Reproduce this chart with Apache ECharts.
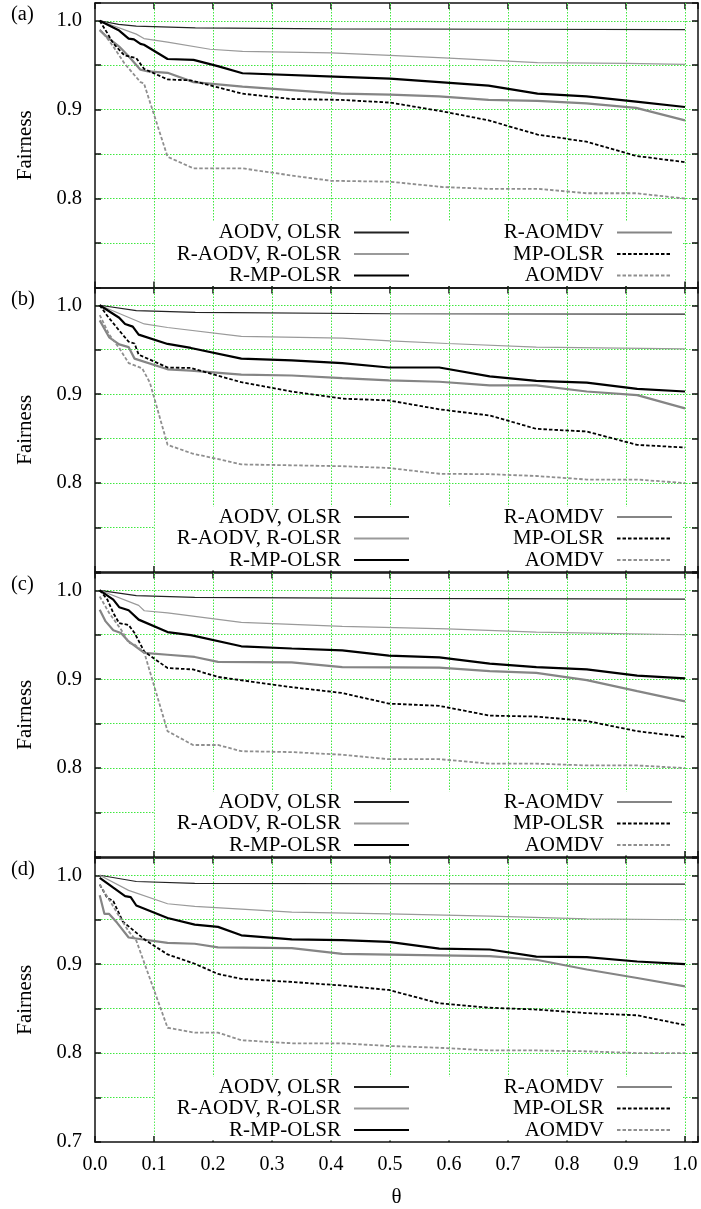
<!DOCTYPE html>
<html>
<head>
<meta charset="utf-8">
<script src="https://cdn.jsdelivr.net/npm/echarts@6/dist/echarts.min.js"></script>
<style>html,body{margin:0;padding:0;background:#fff}#chart{width:701px;height:1209px}</style>
</head>
<body>
<div id="chart"></div>
<script>
const panelLabels = ['(a)', '(b)', '(c)', '(d)'];
const seriesNames = ['AODV, OLSR', 'R-AODV, R-OLSR', 'R-MP-OLSR', 'R-AOMDV', 'MP-OLSR', 'AOMDV'];
const legendLeftNames = ['AODV, OLSR', 'R-AODV, R-OLSR', 'R-MP-OLSR'];
const legendRightNames = ['R-AOMDV', 'MP-OLSR', 'AOMDV'];
const xTickLabels = ['0.0','0.1','0.2','0.3','0.4','0.5','0.6','0.7','0.8','0.9','1.0'];
const yTickLabels = ['0.7','0.8','0.9','1.0'];
const xAxisName = 'θ';
const yAxisName = 'Fairness';

// Panel (a)
const a_aodv = [[0.008,1.0],[0.04,0.996],[0.07,0.994],[0.17,0.992],[0.4,0.991],[0.7,0.9905],[1.0,0.990]];
const a_raodv = [[0.008,1.0],[0.07,0.985],[0.083,0.980],[0.123,0.976],[0.195,0.968],[0.25,0.9655],[0.4,0.964],[0.5,0.961],[0.6,0.958],[0.75,0.953],[0.9,0.952],[1.0,0.951]];
const a_rmp = [[0.008,1.0],[0.041,0.989],[0.057,0.980],[0.066,0.979],[0.077,0.974],[0.083,0.973],[0.123,0.957],[0.167,0.956],[0.208,0.949],[0.25,0.941],[0.417,0.937],[0.5,0.935],[0.667,0.927],[0.75,0.918],[0.833,0.915],[0.917,0.909],[1.0,0.903]];
const a_raomdv = [[0.008,0.9895],[0.018,0.983],[0.041,0.971],[0.057,0.960],[0.077,0.945],[0.09,0.943],[0.123,0.9415],[0.167,0.931],[0.25,0.926],[0.333,0.922],[0.417,0.918],[0.5,0.917],[0.583,0.915],[0.667,0.911],[0.75,0.910],[0.833,0.907],[0.917,0.902],[1.0,0.888]];
const a_mp = [[0.008,1.0],[0.021,0.986],[0.031,0.9745],[0.05,0.961],[0.07,0.958],[0.083,0.946],[0.123,0.934],[0.162,0.933],[0.25,0.918],[0.333,0.912],[0.417,0.911],[0.5,0.908],[0.59,0.898],[0.667,0.888],[0.75,0.872],[0.833,0.864],[0.917,0.848],[1.0,0.841]];
const a_aomdv = [[0.008,0.99],[0.0145,0.986],[0.031,0.971],[0.05,0.952],[0.077,0.931],[0.083,0.9295],[0.123,0.847],[0.167,0.834],[0.25,0.834],[0.333,0.826],[0.4,0.82],[0.5,0.819],[0.59,0.813],[0.667,0.811],[0.75,0.811],[0.833,0.806],[0.917,0.806],[1.0,0.800]];

// Panel (b)
const b_aodv = [[0.008,1.0],[0.07,0.994],[0.17,0.992],[0.5,0.9905],[1.0,0.990]];
const b_raodv = [[0.008,1.0],[0.0835,0.979],[0.123,0.975],[0.248,0.965],[0.419,0.963],[0.5,0.960],[0.597,0.957],[0.748,0.953],[1.0,0.951]];
const b_rmp = [[0.008,1.0],[0.041,0.986],[0.051,0.979],[0.064,0.976],[0.074,0.967],[0.123,0.9565],[0.1625,0.952],[0.248,0.940],[0.3335,0.938],[0.419,0.935],[0.498,0.930],[0.5835,0.930],[0.669,0.920],[0.748,0.915],[0.8335,0.913],[0.919,0.906],[1.0,0.903]];
const b_raomdv = [[0.008,0.983],[0.024,0.964],[0.041,0.956],[0.057,0.953],[0.067,0.940],[0.123,0.928],[0.1625,0.9265],[0.248,0.922],[0.3335,0.921],[0.419,0.918],[0.498,0.9155],[0.5835,0.914],[0.669,0.910],[0.748,0.910],[0.8335,0.903],[0.919,0.899],[1.0,0.884]];
const b_mp = [[0.008,1.0],[0.021,0.988],[0.0375,0.9745],[0.057,0.959],[0.067,0.957],[0.074,0.9445],[0.123,0.930],[0.1625,0.9295],[0.248,0.9135],[0.3335,0.903],[0.419,0.895],[0.498,0.893],[0.5835,0.883],[0.669,0.876],[0.748,0.861],[0.8335,0.858],[0.919,0.843],[1.0,0.840]];
const b_aomdv = [[0.008,0.989],[0.024,0.967],[0.041,0.952],[0.057,0.935],[0.080,0.929],[0.093,0.913],[0.123,0.843],[0.166,0.833],[0.195,0.829],[0.248,0.821],[0.3335,0.820],[0.419,0.819],[0.498,0.817],[0.5835,0.8105],[0.669,0.810],[0.748,0.808],[0.8335,0.804],[0.919,0.804],[1.0,0.800]];

// Panel (c)
const c_aodv = [[0.008,1.0],[0.07,0.994],[0.169,0.992],[0.5,0.991],[1.0,0.990]];
const c_raodv = [[0.008,1.0],[0.074,0.983],[0.0835,0.977],[0.123,0.9745],[0.248,0.964],[0.419,0.9595],[0.597,0.9565],[0.748,0.953],[1.0,0.950]];
const c_rmp = [[0.008,1.0],[0.031,0.9895],[0.041,0.981],[0.057,0.9775],[0.074,0.967],[0.123,0.953],[0.1625,0.9495],[0.248,0.937],[0.3335,0.9345],[0.419,0.9325],[0.498,0.9265],[0.5835,0.9245],[0.669,0.9175],[0.748,0.9135],[0.8335,0.911],[0.919,0.904],[1.0,0.901]];
const c_raomdv = [[0.008,0.978],[0.018,0.965],[0.031,0.955],[0.044,0.952],[0.057,0.9425],[0.0835,0.9295],[0.123,0.9275],[0.169,0.925],[0.2085,0.9195],[0.3335,0.919],[0.419,0.9135],[0.5835,0.913],[0.669,0.909],[0.748,0.907],[0.8335,0.899],[0.919,0.8865],[1.0,0.875]];
const c_mp = [[0.008,1.0],[0.021,0.9895],[0.031,0.9745],[0.041,0.963],[0.057,0.961],[0.067,0.952],[0.0835,0.931],[0.123,0.9125],[0.166,0.911],[0.2085,0.9025],[0.3335,0.891],[0.419,0.8845],[0.498,0.8725],[0.5835,0.870],[0.669,0.859],[0.748,0.858],[0.8335,0.853],[0.919,0.8415],[1.0,0.835]];
const c_aomdv = [[0.008,0.993],[0.024,0.9745],[0.044,0.956],[0.057,0.941],[0.067,0.939],[0.0835,0.930],[0.123,0.8415],[0.166,0.826],[0.2085,0.826],[0.248,0.819],[0.3335,0.818],[0.419,0.815],[0.498,0.810],[0.5835,0.810],[0.669,0.805],[0.748,0.805],[0.8335,0.803],[0.919,0.803],[1.0,0.800]];

// Panel (d)
const d_aodv = [[0.008,1.0],[0.07,0.993],[0.169,0.991],[0.5,0.9905],[1.0,0.990]];
const d_raodv = [[0.008,1.0],[0.057,0.983],[0.123,0.968],[0.169,0.965],[0.3335,0.9585],[0.498,0.9565],[0.669,0.954],[0.8335,0.951],[1.0,0.950]];
const d_rmp = [[0.008,0.997],[0.031,0.986],[0.051,0.9765],[0.0605,0.9755],[0.070,0.966],[0.123,0.952],[0.169,0.9445],[0.2085,0.942],[0.248,0.9325],[0.3335,0.928],[0.419,0.927],[0.498,0.925],[0.5835,0.9175],[0.669,0.9165],[0.748,0.9085],[0.8335,0.908],[0.919,0.903],[1.0,0.900]];
const d_raomdv = [[0.008,0.9775],[0.016,0.9565],[0.024,0.9565],[0.0375,0.9465],[0.057,0.930],[0.123,0.924],[0.169,0.923],[0.2085,0.919],[0.3335,0.918],[0.419,0.9115],[0.5835,0.910],[0.669,0.909],[0.748,0.905],[0.8335,0.894],[0.919,0.8845],[1.0,0.875]];
const d_mp = [[0.008,0.9895],[0.021,0.9745],[0.031,0.971],[0.047,0.948],[0.0835,0.928],[0.123,0.911],[0.169,0.9005],[0.2085,0.889],[0.248,0.8835],[0.3335,0.880],[0.419,0.876],[0.498,0.871],[0.5835,0.856],[0.669,0.851],[0.748,0.849],[0.8335,0.845],[0.919,0.8425],[1.0,0.8315]];
const d_aomdv = [[0.008,0.9895],[0.024,0.9725],[0.041,0.954],[0.057,0.937],[0.070,0.9265],[0.123,0.8285],[0.169,0.823],[0.2085,0.823],[0.248,0.8145],[0.3335,0.811],[0.419,0.811],[0.498,0.808],[0.5835,0.806],[0.669,0.803],[0.748,0.803],[0.8335,0.802],[0.919,0.800],[1.0,0.800]];

const panelData = [
  [a_aodv, a_raodv, a_rmp, a_raomdv, a_mp, a_aomdv],
  [b_aodv, b_raodv, b_rmp, b_raomdv, b_mp, b_aomdv],
  [c_aodv, c_raodv, c_rmp, c_raomdv, c_mp, c_aomdv],
  [d_aodv, d_raodv, d_rmp, d_raomdv, d_mp, d_aomdv]
];

const FONT = '"Liberation Serif", "Times New Roman", serif';
const lineStyles = [
  {color: '#222222', width: 1.2, type: 'solid'},
  {color: '#9a9a9a', width: 1.2, type: 'solid'},
  {color: '#000000', width: 2.2, type: 'solid'},
  {color: '#858585', width: 2.2, type: 'solid'},
  {color: '#000000', width: 1.8, type: [3.5, 2]},
  {color: '#8f8f8f', width: 1.8, type: [3.5, 2]}
];

const tops = [3, 287.5, 572.5, 857.5];
const H = 284.5;
const gridLeft = 95, gridWidth = 603;
const axisLineStyle = {color: '#111', width: 1.5};
const gridLineStyle = {color: '#3fe83f', width: 1, type: [1.5, 1.5]};

const isTenth = v => Math.abs(v * 10 - Math.round(v * 10)) < 1e-6;

const grid = [], xAxis = [], yAxis = [], series = [], legend = [], title = [];
tops.forEach((top, i) => {
  grid.push({left: gridLeft, top: top, width: gridWidth, height: H, show: false});
  const last = i === 3;
  xAxis.push({
    gridIndex: i, type: 'value', min: 0, max: 1.022, interval: 0.1, position: 'bottom',
    axisLine: {show: true, onZero: false, lineStyle: axisLineStyle},
    axisTick: {show: true, inside: true, length: 6, lineStyle: axisLineStyle},
    axisLabel: {show: last, margin: 13, fontSize: 20, fontFamily: FONT, color: '#000',
      formatter: v => (isTenth(v) && v <= 1.0001) ? xTickLabels[Math.round(v * 10)] : ''},
    splitLine: {show: true, showMinLine: false, showMaxLine: false, lineStyle: gridLineStyle},
    name: last ? xAxisName : '', nameLocation: 'middle', nameGap: 45,
    nameTextStyle: {fontSize: 21, fontFamily: FONT, color: '#000'},
    z: 1
  });
  xAxis.push({
    gridIndex: i, type: 'value', min: 0, max: 1.022, interval: 0.1, position: 'top',
    axisLine: {show: true, onZero: false, lineStyle: axisLineStyle},
    axisTick: {show: true, inside: true, length: 6, lineStyle: axisLineStyle},
    axisLabel: {show: false}, splitLine: {show: false}
  });
  yAxis.push({
    gridIndex: i, type: 'value', min: 0.7, max: 1.02, interval: 0.05, position: 'left',
    axisLine: {show: true, onZero: false, lineStyle: axisLineStyle},
    axisTick: {show: true, inside: true, length: 6, lineStyle: axisLineStyle},
    axisLabel: {show: true, margin: 13, fontSize: 20.5, fontFamily: FONT, color: '#000',
      formatter: v => {
        if (!isTenth(v) || v > 1.001) return '';
        if (v < 0.75 && !last) return '';
        return yTickLabels[Math.round(v * 10) - 7];
      }},
    splitLine: {show: true, showMinLine: false, showMaxLine: false, lineStyle: gridLineStyle},
    name: yAxisName, nameLocation: 'middle', nameGap: 59,
    nameTextStyle: {fontSize: 21, fontFamily: FONT, color: '#000'}
  });
  yAxis.push({
    gridIndex: i, type: 'value', min: 0.7, max: 1.02, interval: 0.05, position: 'right',
    axisLine: {show: true, onZero: false, lineStyle: axisLineStyle},
    axisTick: {show: true, inside: true, length: 6, lineStyle: axisLineStyle},
    axisLabel: {show: false}, splitLine: {show: false}
  });
  panelData[i].forEach((d, k) => {
    series.push({
      name: seriesNames[k], type: 'line', xAxisIndex: 2 * i, yAxisIndex: 2 * i,
      data: d, symbol: 'none', showSymbol: false, smooth: false,
      lineStyle: lineStyles[k], itemStyle: {color: lineStyles[k].color},
      emphasis: {disabled: true}, animation: false
    });
  });
  const legendCommon = {
    orient: 'vertical', align: 'right', top: top + 219, itemWidth: 55, itemHeight: 14, itemGap: 0.5,
    selectedMode: false, backgroundColor: '#ffffff',
    itemStyle: {opacity: 0},
    textStyle: {fontSize: 21, fontFamily: FONT, color: '#000', padding: [0, 8, 0, 0]}
  };
  legend.push(Object.assign({}, legendCommon, {data: legendLeftNames, right: 281, padding: [0, 10, 0, 22]}));
  legend.push(Object.assign({}, legendCommon, {data: legendRightNames, right: 18, padding: [0, 10, 0, 85]}));
  title.push({text: panelLabels[i], left: 11, top: top + 1.5, padding: 0,
    textStyle: {fontSize: 20.5, fontWeight: 'normal', fontFamily: FONT, color: '#000'}});
});

const chart = echarts.init(document.getElementById('chart'), null, {renderer: 'canvas'});
chart.setOption({
  backgroundColor: '#ffffff',
  animation: false,
  title, grid, xAxis, yAxis, legend, series
});
</script>
</body>
</html>
